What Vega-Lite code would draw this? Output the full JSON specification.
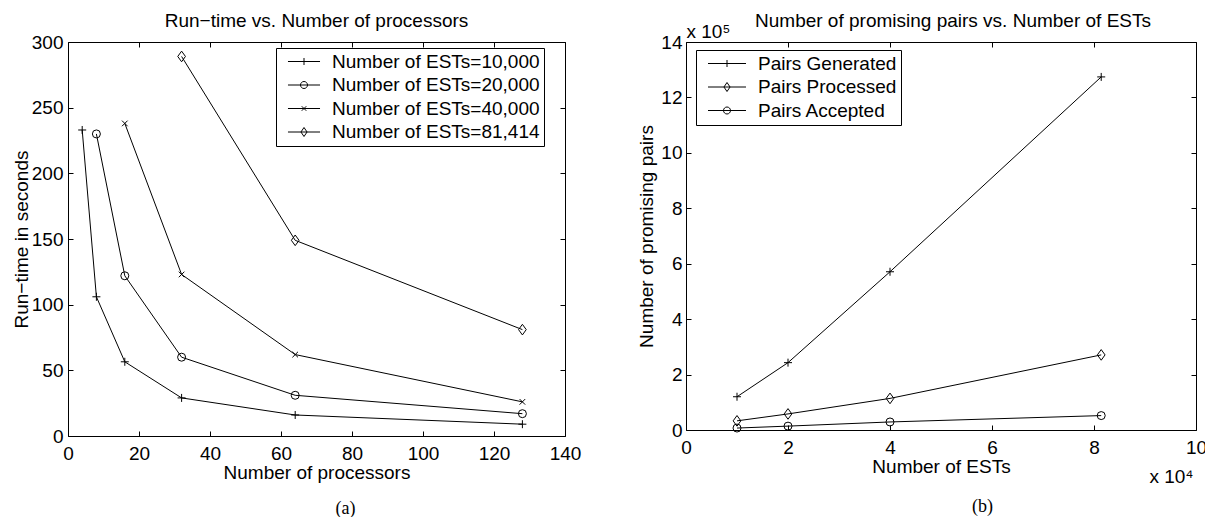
{
  "$schema": "https://vega.github.io/schema/vega-lite/v6.json",
  "background": "white",
  "padding": {"left": 12, "top": 12, "right": 5, "bottom": 0},
  "spacing": 121,
  "bounds": "flush",
  "resolve": {"scale": {"shape": "independent"}, "legend": {"shape": "independent"}},
  "hconcat": [
    {
      "width": 497,
      "height": 394,
      "title": {"text": "Run−time vs. Number of processors", "offset": 2},
      "data": {"values": [
        {"series": "Number of ESTs=10,000", "processors": 4, "runtime": 233},
        {"series": "Number of ESTs=10,000", "processors": 8, "runtime": 106},
        {"series": "Number of ESTs=10,000", "processors": 16, "runtime": 56.5},
        {"series": "Number of ESTs=10,000", "processors": 32, "runtime": 29},
        {"series": "Number of ESTs=10,000", "processors": 64, "runtime": 16},
        {"series": "Number of ESTs=10,000", "processors": 128, "runtime": 9},
        {"series": "Number of ESTs=20,000", "processors": 8, "runtime": 230},
        {"series": "Number of ESTs=20,000", "processors": 16, "runtime": 122},
        {"series": "Number of ESTs=20,000", "processors": 32, "runtime": 60},
        {"series": "Number of ESTs=20,000", "processors": 64, "runtime": 31},
        {"series": "Number of ESTs=20,000", "processors": 128, "runtime": 17},
        {"series": "Number of ESTs=40,000", "processors": 16, "runtime": 238},
        {"series": "Number of ESTs=40,000", "processors": 32, "runtime": 123},
        {"series": "Number of ESTs=40,000", "processors": 64, "runtime": 62},
        {"series": "Number of ESTs=40,000", "processors": 128, "runtime": 26},
        {"series": "Number of ESTs=81,414", "processors": 32, "runtime": 289},
        {"series": "Number of ESTs=81,414", "processors": 64, "runtime": 149},
        {"series": "Number of ESTs=81,414", "processors": 128, "runtime": 81}
      ]},
      "layer": [
        {
          "mark": {"type": "line", "color": "black", "strokeWidth": 1},
          "encoding": {
            "x": {"field": "processors", "type": "quantitative", "scale": {"domain": [0, 140], "nice": false, "zero": false},
                  "axis": {"orient": "bottom", "values": [0, 20, 40, 60, 80, 100, 120, 140], "title": "Number of processors", "labelPadding": 13.5, "titlePadding": 0}},
            "y": {"field": "runtime", "type": "quantitative", "scale": {"domain": [0, 300], "nice": false, "zero": false},
                  "axis": {"orient": "left", "values": [0, 50, 100, 150, 200, 250, 300], "title": "Run−time in seconds", "labelPadding": 10, "titlePadding": 0}},
            "detail": {"field": "series"}
          }
        },
        {
          "mark": {"type": "point", "filled": false, "color": "black", "strokeWidth": 1, "size": 64, "opacity": 1},
          "encoding": {
            "x": {"field": "processors", "type": "quantitative",
                  "axis": {"orient": "top", "values": [0, 20, 40, 60, 80, 100, 120, 140], "labels": false, "title": null}},
            "y": {"field": "runtime", "type": "quantitative",
                  "axis": {"orient": "right", "values": [0, 50, 100, 150, 200, 250, 300], "labels": false, "title": null}},
            "shape": {
              "field": "series", "type": "nominal",
              "scale": {
                "domain": ["Number of ESTs=10,000", "Number of ESTs=20,000", "Number of ESTs=40,000", "Number of ESTs=81,414"],
                "range": ["M-1,0H1M0,-1V1", "circle", "M-0.7,-0.7L0.7,0.7M-0.7,0.7L0.7,-0.7", "M0,-1.33L0.96,0L0,1.33L-0.96,0Z"]
              },
              "legend": null
            }
          }
        },
        {
          "mark": {"type": "point", "opacity": 0, "filled": false, "color": "black", "strokeWidth": 1, "size": 64},
          "encoding": {
            "x": {"field": "processors", "type": "quantitative",
                  "axis": {"orient": "bottom", "labels": false, "ticks": false, "domain": false, "title": "(a)",
                           "titleFont": "Liberation Serif", "titleFontSize": 18, "titleX": 277, "titleY": 77,
                           "titleAlign": "center", "titleBaseline": "alphabetic", "titleAngle": 0}},
            "y": {"field": "runtime", "type": "quantitative", "axis": null},
            "shape": {
              "field": "series", "type": "nominal",
              "scale": {
                "domain": ["Number of ESTs=10,000", "Number of ESTs=20,000", "Number of ESTs=40,000", "Number of ESTs=81,414"],
                "range": ["M-1.78,0H1.78M0,-0.39V0.39", "M-1.78,0H1.78M-0.39,0A0.39,0.39,0,1,0,0.39,0A0.39,0.39,0,1,0,-0.39,0", "M-1.78,0H1.78M-0.25,-0.25L0.25,0.25M-0.25,0.25L0.25,-0.25", "M-1.78,0H1.78M0,-0.5L0.34,0L0,0.5L-0.34,0Z"]
              },
              "legend": {
                "title": null, "orient": "none", "legendX": 208, "legendY": 6,
                "padding": 4, "symbolSize": 324, "symbolOffset": 14.5, "labelOffset": 18.5, "rowPadding": 3.5,
                "strokeColor": "black", "fillColor": "white",
                "labelFont": "Liberation Sans", "labelFontSize": 19, "labelColor": "black", "labelLimit": 400,
                "symbolStrokeColor": "black", "symbolStrokeWidth": 1, "symbolFillColor": "transparent", "symbolOpacity": 1
              }
            }
          }
        }
      ],
      "resolve": {"axis": {"x": "independent", "y": "independent"}, "scale": {"shape": "independent"}, "legend": {"shape": "independent"}}
    },
    {
      "width": 510,
      "height": 388,
      "title": {"text": "Number of promising pairs vs. Number of ESTs", "offset": -9, "dx": 12},
      "data": {"values": [
        {"series": "Pairs Generated", "ests": 10000, "pairs": 120000},
        {"series": "Pairs Generated", "ests": 20000, "pairs": 243000},
        {"series": "Pairs Generated", "ests": 40000, "pairs": 571000},
        {"series": "Pairs Generated", "ests": 81414, "pairs": 1274000},
        {"series": "Pairs Processed", "ests": 10000, "pairs": 33000},
        {"series": "Pairs Processed", "ests": 20000, "pairs": 58000},
        {"series": "Pairs Processed", "ests": 40000, "pairs": 114000},
        {"series": "Pairs Processed", "ests": 81414, "pairs": 271000},
        {"series": "Pairs Accepted", "ests": 10000, "pairs": 7000},
        {"series": "Pairs Accepted", "ests": 20000, "pairs": 14000},
        {"series": "Pairs Accepted", "ests": 40000, "pairs": 29000},
        {"series": "Pairs Accepted", "ests": 81414, "pairs": 52000}
      ]},
      "layer": [
        {
          "mark": {"type": "line", "color": "black", "strokeWidth": 1},
          "encoding": {
            "x": {"field": "ests", "type": "quantitative", "scale": {"domain": [0, 100000], "nice": false, "zero": false},
                  "axis": {"orient": "bottom", "values": [0, 20000, 40000, 60000, 80000, 100000], "labelExpr": "format(datum.value/10000, 'd')", "title": "Number of ESTs", "labelPadding": 13.5, "titlePadding": 0}},
            "y": {"field": "pairs", "type": "quantitative", "scale": {"domain": [0, 1400000], "nice": false, "zero": false},
                  "axis": {"orient": "left", "values": [0, 200000, 400000, 600000, 800000, 1000000, 1200000, 1400000], "labelExpr": "format(datum.value/100000, 'd')", "title": "Number of promising pairs", "labelPadding": 9, "titlePadding": 4}},
            "detail": {"field": "series"}
          }
        },
        {
          "mark": {"type": "point", "filled": false, "color": "black", "strokeWidth": 1, "size": 64, "opacity": 1},
          "encoding": {
            "x": {"field": "ests", "type": "quantitative",
                  "axis": {"orient": "top", "values": [0, 20000, 40000, 60000, 80000, 100000], "labels": false,
                           "title": "x 10⁵", "titleX": 0, "titleY": -5, "titleAlign": "left", "titleBaseline": "alphabetic", "titleAngle": 0}},
            "y": {"field": "pairs", "type": "quantitative",
                  "axis": {"orient": "right", "values": [0, 200000, 400000, 600000, 800000, 1000000, 1200000, 1400000], "labels": false,
                           "title": "x 10⁴", "titleX": -3, "titleY": 440, "titleAlign": "right", "titleBaseline": "alphabetic", "titleAngle": 0}},
            "shape": {
              "field": "series", "type": "nominal",
              "scale": {
                "domain": ["Pairs Generated", "Pairs Processed", "Pairs Accepted"],
                "range": ["M-1,0H1M0,-1V1", "M0,-1.33L0.96,0L0,1.33L-0.96,0Z", "circle"]
              },
              "legend": null
            }
          }
        },
        {
          "mark": {"type": "point", "opacity": 0, "filled": false, "color": "black", "strokeWidth": 1, "size": 64},
          "encoding": {
            "x": {"field": "ests", "type": "quantitative",
                  "axis": {"orient": "bottom", "labels": false, "ticks": false, "domain": false, "title": "(b)",
                           "titleFont": "Liberation Serif", "titleFontSize": 18, "titleX": 296, "titleY": 81,
                           "titleAlign": "center", "titleBaseline": "alphabetic", "titleAngle": 0}},
            "y": {"field": "pairs", "type": "quantitative", "axis": null},
            "shape": {
              "field": "series", "type": "nominal",
              "scale": {
                "domain": ["Pairs Generated", "Pairs Processed", "Pairs Accepted"],
                "range": ["M-2.11,0H2.11M0,-0.39V0.39", "M-2.11,0H2.11M0,-0.5L0.34,0L0,0.5L-0.34,0Z", "M-2.11,0H2.11M-0.39,0A0.39,0.39,0,1,0,0.39,0A0.39,0.39,0,1,0,-0.39,0"]
              },
              "legend": {
                "title": null, "orient": "none", "legendX": 10, "legendY": 8,
                "padding": 4, "symbolSize": 324, "symbolOffset": 17.5, "labelOffset": 21.5, "rowPadding": 3.5,
                "strokeColor": "black", "fillColor": "white",
                "labelFont": "Liberation Sans", "labelFontSize": 19, "labelColor": "black", "labelLimit": 400,
                "symbolStrokeColor": "black", "symbolStrokeWidth": 1, "symbolFillColor": "transparent", "symbolOpacity": 1
              }
            }
          }
        }
      ],
      "resolve": {"axis": {"x": "independent", "y": "independent"}, "scale": {"shape": "independent"}, "legend": {"shape": "independent"}}
    }
  ],
  "config": {
    "font": "Liberation Sans",
    "view": {"stroke": null},
    "axis": {
      "labelFont": "Liberation Sans", "labelFontSize": 19, "labelColor": "black",
      "titleFont": "Liberation Sans", "titleFontSize": 19, "titleFontWeight": "normal", "titleColor": "black",
      "domainColor": "black", "domainWidth": 1, "tickColor": "black", "tickWidth": 1, "tickSize": -5,
      "grid": false, "labelFlush": false, "labelOverlap": false, "labelBound": false
    },
    "title": {"font": "Liberation Sans", "fontSize": 19, "fontWeight": "normal", "color": "black", "anchor": "middle"}
  }
}
